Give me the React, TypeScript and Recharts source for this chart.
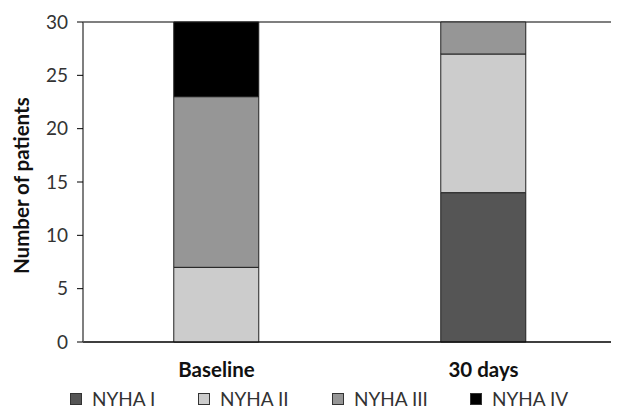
import React from "react";
import { BarChart, Bar, XAxis, YAxis, CartesianGrid, Legend } from "recharts";

const categories = ["Baseline", "30 days"];
const nyha1 = [0, 14];
const nyha2 = [7, 13];
const nyha3 = [16, 3];
const nyha4 = [7, 0];
const yTicks = [0, 5, 10, 15, 20, 25, 30];

const seriesNames = ["NYHA I", "NYHA II", "NYHA III", "NYHA IV"];
const seriesColors = ["#555555", "#cccccc", "#969696", "#000000"];

const data = categories.map((c, i) => ({
  name: c,
  s1: nyha1[i],
  s2: nyha2[i],
  s3: nyha3[i],
  s4: nyha4[i],
}));

const FONT = "Lato, 'Open Sans', sans-serif";

const starts = [62, 190, 324, 462];

const LegendContent = (props: any) => {
  const payload = props.payload || [];
  return (
    <div style={{ position: "relative", height: 20, width: 600, fontFamily: FONT, fontSize: 19, color: "#333" }}>
      {payload.map((p: any, i: number) => (
        <div
          key={i}
          style={{
            position: "absolute",
            left: starts[i],
            top: 0,
            display: "flex",
            alignItems: "center",
            lineHeight: "20px",
            whiteSpace: "nowrap",
          }}
        >
          <div
            style={{
              width: 10,
              height: 10,
              background: p.color,
              border: "1px solid #333",
              marginRight: 10,
              flexShrink: 0,
            }}
          />
          <span>{p.value}</span>
        </div>
      ))}
    </div>
  );
};

export default function App() {
  return (
    <BarChart
      width={611}
      height={402}
      data={data}
      barCategoryGap="34%"
      margin={{ top: 14, right: 2, left: 0, bottom: 28 }}
    >
      <CartesianGrid vertical={false} stroke="#000" strokeWidth={1.1} />
      <XAxis
        dataKey="name"
        axisLine={{ stroke: "#000", strokeWidth: 1.2 }}
        tickLine={false}
        tickSize={0}
        tickMargin={20}
        height={40}
        tick={{ fill: "#111", fontSize: 20.5, fontWeight: 700, fontFamily: FONT }}
      />
      <YAxis
        yAxisId="left"
        domain={[0, 30]}
        ticks={yTicks}
        width={75}
        axisLine={{ stroke: "#555", strokeWidth: 1.5 }}
        tickLine={{ stroke: "#000" }}
        tickSize={6}
        tickMargin={9}
        tick={{ fill: "#333", fontSize: 19, fontFamily: FONT }}
        label={{
          value: "Number of patients",
          angle: -90,
          position: "insideLeft",
          dx: 9,
          dy: 92,
          style: { fill: "#111", fontSize: 20.5, fontWeight: 700, fontFamily: FONT },
        }}
      />
      <YAxis
        yAxisId="right"
        orientation="right"
        domain={[0, 30]}
        width={0}
        tick={false}
        tickLine={false}
        axisLine={{ stroke: "#555", strokeWidth: 1.5 }}
      />
      <Legend
        layout="horizontal"
        verticalAlign="middle"
        align="center"
        content={<LegendContent />}
        wrapperStyle={{ top: 381, left: 0, width: 600 }}
      />
      {["s1", "s2", "s3", "s4"].map((k, i) => (
        <Bar
          key={k}
          yAxisId="left"
          dataKey={k}
          stackId="a"
          name={seriesNames[i]}
          fill={seriesColors[i]}
          stroke="#222"
          strokeWidth={1}
          isAnimationActive={false}
        />
      ))}
    </BarChart>
  );
}
